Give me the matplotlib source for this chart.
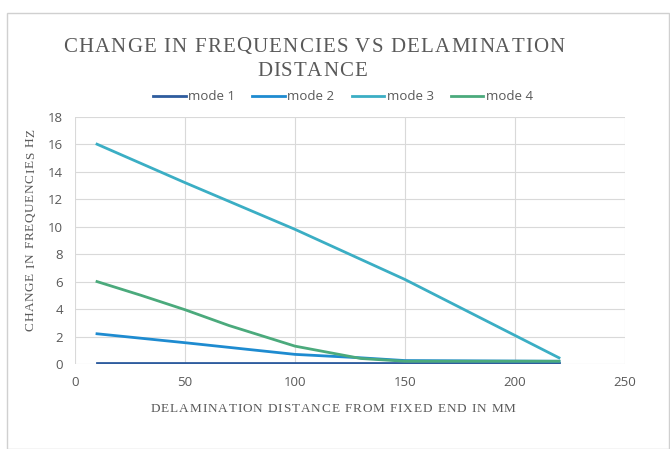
import numpy as np
import matplotlib
matplotlib.use("Agg")
import matplotlib.pyplot as plt
from matplotlib.patches import Rectangle

# values
mode1_x = [10, 50, 100, 150, 220]
mode1_y = [0.1, 0.1, 0.1, 0.1, 0.1]

mode2_x = [10, 50, 100, 130, 150, 220]
mode2_y = [2.2, 1.55, 0.7, 0.45, 0.25, 0.2]

mode3_x = [10, 50, 100, 150, 220]
mode3_y = [16.0, 13.2, 9.8, 6.15, 0.45]

mode4_x = [10, 30, 50, 70, 100, 130, 150, 220]
mode4_y = [6.0, 5.0, 3.95, 2.8, 1.3, 0.4, 0.2, 0.2]

series = [
    ("mode 1", mode1_x, mode1_y, "#2E5C9E"),
    ("mode 2", mode2_x, mode2_y, "#1E8BD0"),
    ("mode 3", mode3_x, mode3_y, "#3BAEC4"),
    ("mode 4", mode4_x, mode4_y, "#4BAA7C"),
]

xticks = [0, 50, 100, 150, 200, 250]
yticks = [0, 2, 4, 6, 8, 10, 12, 14, 16, 18]

title1 = "CHANGE IN FREQUENCIES VS DELAMINATION"
title2 = "DISTANCE"
ylab = "CHANGE IN FREQUENCIES HZ"
xlab = "DELAMINATION DISTANCE FROM FIXED END IN MM"

grey = "#595959"
serif = ["Liberation Serif", "DejaVu Serif"]
sans = ["Open Sans", "DejaVu Sans"]

W, H = 670, 449
fig = plt.figure(figsize=(W / 100, H / 100), dpi=100)
renderer = fig.canvas.get_renderer()


def spaced_text(s, cx, base, size, total, vertical=False):
    # letter-spaced text centred on cx (pixels), baseline at `base`,
    # spread so the whole string spans `total` pixels
    widths = []
    for ch in s:
        if ch == " ":
            widths.append(0.25 * size * 100 / 72)
            continue
        t = fig.text(0, 0, ch, family=serif, fontsize=size)
        widths.append(t.get_window_extent(renderer).width)
        t.remove()
    gap = (total - sum(widths)) / (len(s) - 1)
    pos = -total / 2
    for ch, w in zip(s, widths):
        if ch != " ":
            mid = pos + w / 2
            if vertical:
                x, y = base, cx - mid
            else:
                x, y = cx + mid, base
            fig.text(x / W, 1 - y / H, ch, family=serif, fontsize=size,
                     color=grey, ha="center", va="baseline",
                     rotation=90 if vertical else 0, rotation_mode="anchor")
        pos += w + gap


fig.patches.append(Rectangle((7 / W, 0), 662 / W, 1 - 13 / H,
                             transform=fig.transFigure, fill=False,
                             edgecolor="#D0D0D0", linewidth=1))

ax = fig.add_axes([75 / W, 1 - 364 / H, 550 / W, 247.3 / H])

for name, xs, ys, col in series:
    ax.plot(xs, ys, color=col, linewidth=2, label=name)

ax.set_xlim(0, 250)
ax.set_ylim(0, 18)
ax.set_xticks(xticks)
ax.set_yticks(yticks)
ax.grid(True, color="#D9D9D9", linewidth=0.8)
ax.set_axisbelow(True)
for s in ax.spines.values():
    s.set_visible(False)
ax.tick_params(length=0, colors=grey, labelsize=9.5, pad=8.5)
for lab in ax.get_xticklabels() + ax.get_yticklabels():
    lab.set_family(sans)

spaced_text(title1, 314, 51.5, 15, 502)
spaced_text(title2, 312, 75.5, 15, 110)
# vertical: cx is the centre along y, base is the x of the baseline
spaced_text(ylab, 230, 34, 9.5, 202, vertical=True)
spaced_text(xlab, 333, 412, 9.5, 365)

fig.legend(loc="center", bbox_to_anchor=(343 / W, 1 - 97 / H), ncol=4,
           frameon=False, handlelength=2.45, columnspacing=1.3,
           handletextpad=0.2, prop={"family": sans, "size": 9.5},
           labelcolor=grey)

fig.savefig("out.png", dpi=100)
